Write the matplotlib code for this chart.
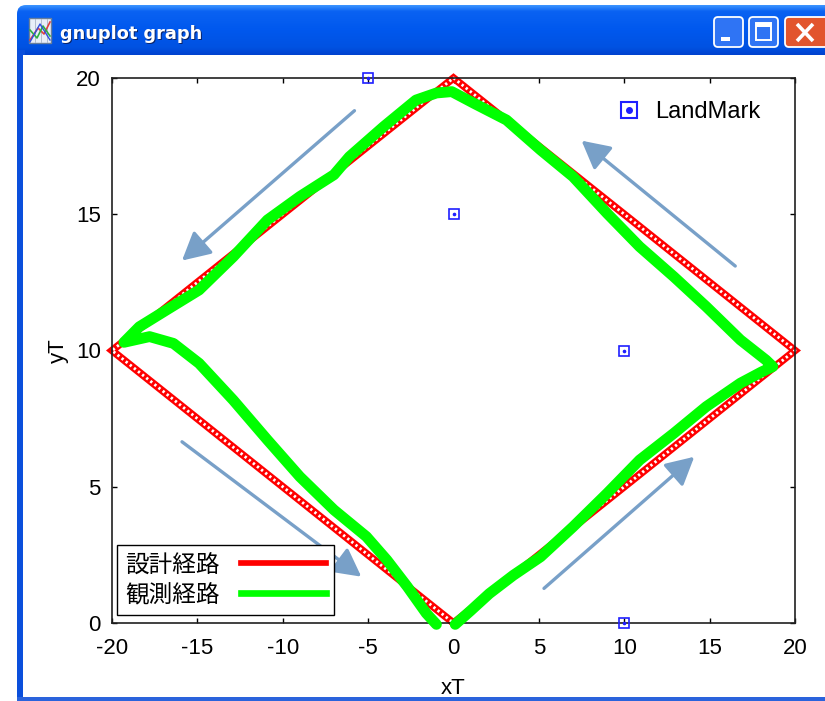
"""Robot route: designed diamond course vs. observed trajectory, in a gnuplot-style window."""
import numpy as np
import matplotlib
matplotlib.use("Agg")
import matplotlib.pyplot as plt
from matplotlib.patches import FancyBboxPatch, Rectangle
from matplotlib.lines import Line2D
from matplotlib.colors import LinearSegmentedColormap
from matplotlib.font_manager import FontProperties

plt.rcParams["font.family"] = ["Liberation Sans", "DejaVu Sans"]
plt.rcParams["axes.unicode_minus"] = False

# designed route: diamond corners, driven counter-clockwise from the origin
design_x = [0, 20, 0, -20, 0]
design_y = [0, 10, 20, 10, 0]

# observed route
obs_x = [0.1, 1.0, 2.1, 3.5, 5.1, 7.0, 9.0, 10.9, 12.9, 14.8, 16.8, 18.0, 18.7,
         18.3, 16.8, 14.8, 12.9, 10.9, 9.0, 7.0, 5.1, 3.1, 1.2, -0.1,
         -1.0, -2.2, -4.1, -6.1, -7.0, -9.0, -10.9, -12.9, -14.9, -16.8, -18.4, -19.3,
         -17.8, -16.4, -14.9, -12.9, -10.9, -9.0, -7.0, -5.1, -3.9, -2.7, -1.6, -1.0]
obs_y = [-0.05, 0.45, 1.08, 1.75, 2.43, 3.53, 4.76, 5.98, 6.96, 7.94, 8.80, 9.2, 9.41,
         9.65, 10.39, 11.61, 12.71, 13.81, 15.03, 16.38, 17.36, 18.46, 19.07, 19.5,
         19.45, 19.19, 18.21, 17.11, 16.45, 15.65, 14.79, 13.44, 12.22, 11.49, 10.87, 10.3,
         10.51, 10.26, 9.53, 8.18, 6.72, 5.37, 4.15, 3.17, 2.31, 1.33, 0.36, -0.05]

# landmarks
lm_x = [-5, 0, 10, 10]
lm_y = [20, 15, 10, 0]

# direction arrows (tail -> head)
arrow_tail_x = [-5.8, 16.5, -15.9, 5.3]
arrow_tail_y = [18.8, 13.1, 6.65, 1.27]
arrow_head_x = [-15.9, 7.5, -5.4, 14.1]
arrow_head_y = [13.3, 17.7, 1.7, 6.1]

W, H = 825, 701
fig = plt.figure(figsize=(W / 100, H / 100), dpi=100, facecolor="white")

# ---- window frame, drawn in pixel coordinates ----
chrome = fig.add_axes([0, 0, 1, 1], zorder=0)
chrome.set_xlim(0, W)
chrome.set_ylim(H, 0)
chrome.axis("off")

bar_cmap = LinearSegmentedColormap.from_list(
    "xpbar", [(0, "#3b93ff"), (0.12, "#0a62f2"), (0.5, "#0058ee"),
              (0.85, "#0052e2"), (1, "#0042cf")])
bar_shape = FancyBboxPatch((17, 5), 830, 70, boxstyle="round,pad=0,rounding_size=9",
                           facecolor="none", edgecolor="none")
chrome.add_patch(bar_shape)
img = chrome.imshow(np.linspace(0, 1, 60)[:, None], extent=(17, 850, 55, 5),
                    aspect="auto", cmap=bar_cmap)
img.set_clip_path(bar_shape)
chrome.add_patch(Rectangle((17, 50), 8, 651, facecolor="#0a4fdc", edgecolor="none"))
chrome.add_patch(Rectangle((17, 697), 808, 4, facecolor="#2a63dc", edgecolor="none"))
chrome.add_patch(Rectangle((23, 55), 802, 642, facecolor="white", edgecolor="none"))

# title bar icon
chrome.add_patch(Rectangle((29, 18), 22, 25, facecolor="#e8eef8", edgecolor="#6a7f9a", lw=1))
for gx in (35, 41, 47):
    chrome.plot([gx, gx], [19, 42], color="#a8b4c8", lw=0.6)
chrome.plot([30, 38, 44, 50], [40, 28, 34, 22], color="#e04040", lw=1.2)
chrome.plot([30, 37, 43, 50], [30, 38, 26, 36], color="#30b040", lw=1.2)
chrome.plot([30, 40, 50], [42, 24, 40], color="#3050e0", lw=1.0)

chrome.text(61, 35, "gnuplot graph", color="#0a246a", fontsize=12.8, fontweight="bold",
            va="center", family="DejaVu Sans")
chrome.text(60, 34, "gnuplot graph", color="white", fontsize=12.8, fontweight="bold",
            va="center", family="DejaVu Sans")

# caption buttons
for bx in (714, 749):
    chrome.add_patch(FancyBboxPatch((bx, 17), 29, 30, boxstyle="round,pad=0,rounding_size=4",
                                    facecolor="#2f74f4", edgecolor="white", lw=1.3))
chrome.add_patch(Rectangle((721, 37), 9, 4, facecolor="white", edgecolor="none"))
chrome.add_patch(Rectangle((756, 23), 15, 17, facecolor="none", edgecolor="white", lw=1.4))
chrome.add_patch(Rectangle((756, 23), 15, 4, facecolor="white", edgecolor="none"))
chrome.add_patch(FancyBboxPatch((785, 17), 45, 30, boxstyle="round,pad=0,rounding_size=4",
                                facecolor="#e2552d", edgecolor="white", lw=1.3))
chrome.plot([797, 813], [24, 41], color="white", lw=2.6, solid_capstyle="butt")
chrome.plot([797, 813], [41, 24], color="white", lw=2.6, solid_capstyle="butt")

# ---- plot area ----
ax = fig.add_axes([112 / W, 1 - 623 / H, 683 / W, 545 / H], zorder=1)
ax.set_facecolor("white")

# designed route as a chain of small open squares
ax.plot(design_x, design_y, color="#ff0000", lw=5.4, solid_joinstyle="miter",
        clip_on=False, zorder=2)
ax.plot(design_x, design_y, color="white", lw=2.1, dashes=(0.8, 1.0),
        clip_on=False, zorder=2.1)

ax.plot(obs_x, obs_y, color="#00ff00", lw=7.8, solid_joinstyle="round",
        solid_capstyle="round", clip_on=False, zorder=3)

ax.plot(lm_x, lm_y, "s", ms=7.5, mfc="none", mec="#1f1fff", mew=1.2, clip_on=False, zorder=4)
ax.plot(lm_x, lm_y, "o", ms=1.6, color="#1f1fff", clip_on=False, zorder=4)

for tx, ty, hx, hy in zip(arrow_tail_x, arrow_tail_y, arrow_head_x, arrow_head_y):
    ax.annotate("", xy=(hx, hy), xytext=(tx, ty),
                arrowprops=dict(arrowstyle="-|>,head_length=0.85,head_width=0.45",
                                lw=2.4, color="#78a0c8", mutation_scale=20,
                                shrinkA=0, shrinkB=0), zorder=5)

ax.set_xlim(-20, 20)
ax.set_ylim(0, 20)
ax.set_xticks(range(-20, 21, 5))
ax.set_yticks(range(0, 21, 5))
ax.tick_params(direction="in", length=3.6, width=1, top=True, right=True, labelsize=16)
ax.tick_params(axis="x", pad=11)
ax.tick_params(axis="y", pad=8)
for sp in ax.spines.values():
    sp.set_linewidth(1.2)
    sp.set_color("#202020")
ax.set_xlabel("xT", fontsize=16)
ax.set_ylabel("yT", fontsize=16)
ax.xaxis.set_label_coords(0.5, -0.1)
ax.yaxis.set_label_coords(-0.063, 0.5)

cjk = FontProperties(family="Noto Sans CJK JP", size=17)
route_leg = ax.legend(handles=[Line2D([], [], color="#ff0000", lw=4.1),
                               Line2D([], [], color="#00ff00", lw=4.8)],
                      labels=["設計経路", "観測経路"], loc="lower left",
                      bbox_to_anchor=(0.0073, 0.0147), borderaxespad=0, markerfirst=False,
                      fancybox=False, edgecolor="black", framealpha=1, prop=cjk,
                      handlelength=3.6, handletextpad=0.9, labelspacing=0.3, borderpad=0.35)
route_leg.get_frame().set_linewidth(1.0)
ax.add_artist(route_leg)

lm_sq = Line2D([], [], ls="none", marker="s", ms=12, mfc="none", mec="#1f1fff", mew=1.5)
lm_dot = Line2D([], [], ls="none", marker="o", ms=4, color="#1f1fff")
ax.legend(handles=[(lm_sq, lm_dot)], labels=["LandMark"], loc="upper right",
          bbox_to_anchor=(0.949, 0.958), borderaxespad=0, borderpad=0, frameon=False,
          handlelength=1.2, handletextpad=0.5, fontsize=17)

fig.savefig("out.png", dpi=100)
